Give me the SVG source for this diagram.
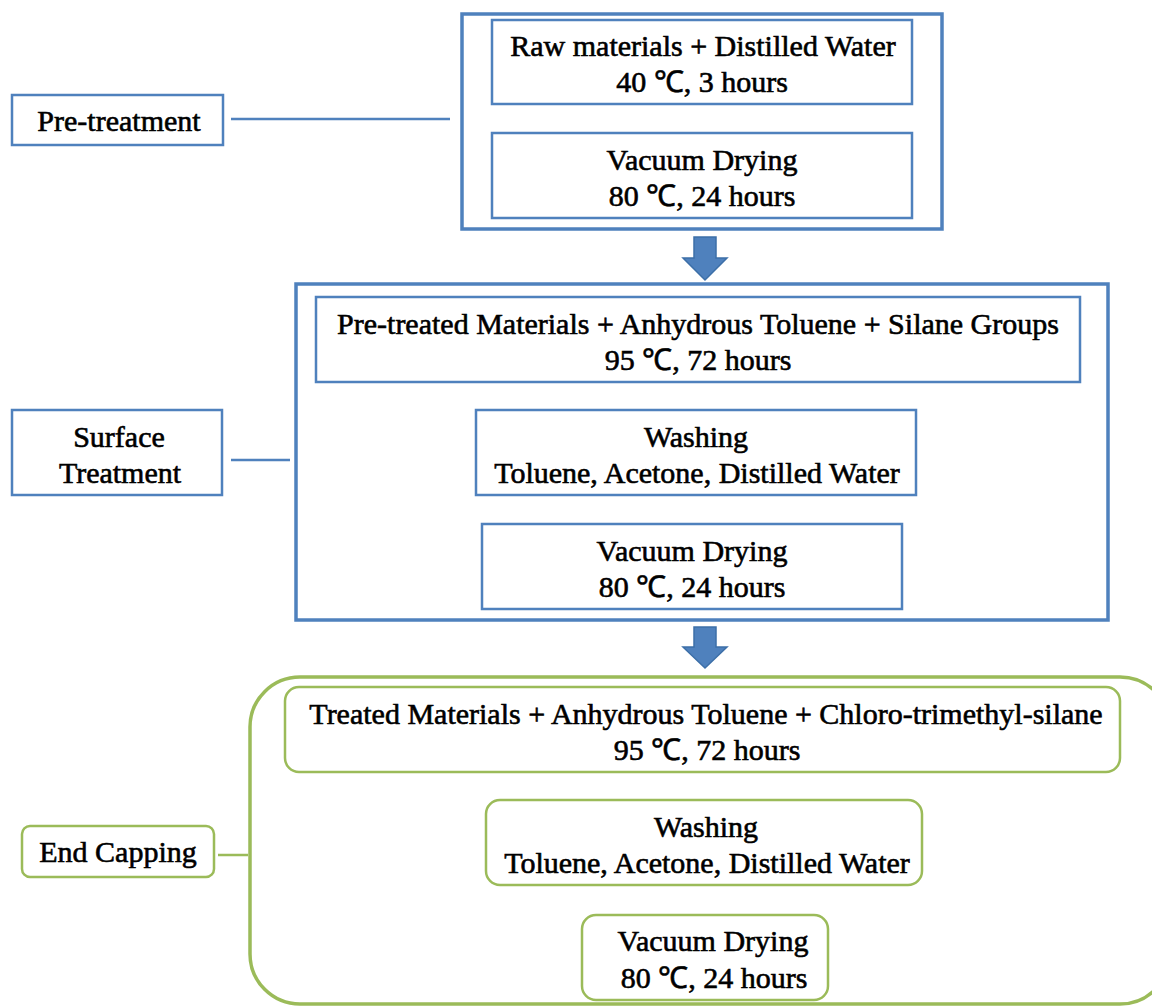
<svg xmlns="http://www.w3.org/2000/svg" width="1152" height="1006" viewBox="0 0 1152 1006">
<style>
.b{fill:#fff;stroke:#4F81BD}
.g{fill:#fff;stroke:#9BBB59}
.o{stroke-width:3.5}
.i{stroke-width:2.5}
text{font-size:30px;fill:#000;text-anchor:middle;stroke:#000;stroke-width:0.6}
.ln{fill:none;stroke-width:2.5}
.ar{fill:#4F81BD;stroke:#3C6FA8;stroke-width:1.5}
</style>
<rect width="1152" height="1006" fill="#fff"/>
<g id="connectors">
<line class="ln" x1="231" y1="119" x2="450" y2="119" stroke="#4F81BD"/>
<line class="ln" x1="231" y1="460" x2="290" y2="460" stroke="#4F81BD"/>
<line class="ln" x1="218" y1="855" x2="248" y2="855" stroke="#9BBB59"/>
<path class="ar" d="M694,237 H716 V258 H727 L705,280 L683,258 H694 Z"/>
<path class="ar" d="M694,627 H716 V647 H727 L705,668 L683,647 H694 Z"/>
</g>
<g font-family="Liberation Serif, serif">
<g id="pretreatment-label">
<rect class="b i" x="12" y="95" width="211" height="50"/>
<text x="119" y="131">Pre-treatment</text>
</g>
<g id="pretreatment-group">
<rect class="b o" x="462" y="14" width="480" height="215"/>
</g>
<g id="raw-materials">
<rect class="b i" x="492" y="20" width="420" height="84"/>
<text x="703" y="56">Raw materials + Distilled Water</text>
<text x="702" y="92">40 ℃, 3 hours</text>
</g>
<g id="vacuum-drying-1">
<rect class="b i" x="492" y="133" width="420" height="85"/>
<text x="702" y="170">Vacuum Drying</text>
<text x="702" y="206">80 ℃, 24 hours</text>
</g>
<g id="surface-label">
<rect class="b i" x="12" y="410" width="210" height="85"/>
<text x="119" y="447">Surface</text>
<text x="120" y="483">Treatment</text>
</g>
<g id="surface-group">
<rect class="b o" x="296" y="284" width="812" height="336"/>
</g>
<g id="pretreated-materials">
<rect class="b i" x="316" y="297" width="764" height="85"/>
<text x="698" y="334">Pre-treated Materials + Anhydrous  Toluene + Silane Groups</text>
<text x="698" y="370">95 ℃, 72 hours</text>
</g>
<g id="washing-1">
<rect class="b i" x="476" y="410" width="440" height="85"/>
<text x="696" y="447">Washing</text>
<text x="697" y="483">Toluene, Acetone, Distilled Water</text>
</g>
<g id="vacuum-drying-2">
<rect class="b i" x="482" y="524" width="420" height="85"/>
<text x="692" y="561">Vacuum Drying</text>
<text x="692" y="597">80 ℃, 24 hours</text>
</g>
<g id="endcapping-label">
<rect class="g i" x="22" y="826" width="192" height="51" rx="8"/>
<text x="118" y="862">End Capping</text>
</g>
<g id="endcapping-group">
<rect class="g o" x="250" y="677" width="920" height="327" rx="50"/>
</g>
<g id="treated-materials">
<rect class="g i" x="285" y="687" width="835" height="85" rx="14"/>
<text x="706" y="724">Treated Materials + Anhydrous  Toluene + Chloro-trimethyl-silane</text>
<text x="707" y="760">95 ℃, 72 hours</text>
</g>
<g id="washing-2">
<rect class="g i" x="486" y="800" width="436" height="85" rx="14"/>
<text x="706" y="837">Washing</text>
<text x="707" y="873">Toluene, Acetone, Distilled Water</text>
</g>
<g id="vacuum-drying-3">
<rect class="g i" x="582" y="915" width="246" height="85" rx="14"/>
<text x="713" y="951">Vacuum Drying</text>
<text x="714" y="988">80 ℃, 24 hours</text>
</g>
</g>
</svg>
